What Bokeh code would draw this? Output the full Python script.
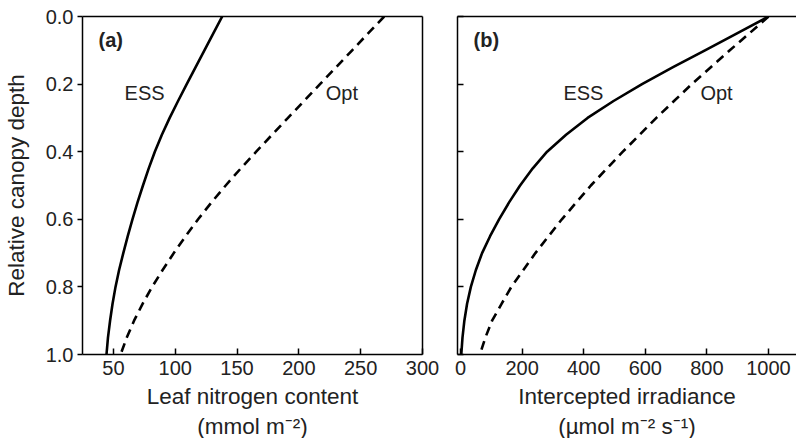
from bokeh.plotting import figure
from bokeh.layouts import row
from bokeh.models import Range1d, LinearAxis, FixedTicker, PrintfTickFormatter, ColumnDataSource
from bokeh.core.properties import value
from bokeh.embed import file_html
from bokeh.resources import INLINE

# Relative canopy depth (0 = top of canopy, 1 = bottom)
depth = [0.00, 0.05, 0.10, 0.15, 0.20, 0.25, 0.30, 0.35, 0.40, 0.45, 0.50,
         0.55, 0.60, 0.65, 0.70, 0.75, 0.80, 0.85, 0.90, 0.95, 1.00]

# (a) Leaf nitrogen content, mmol m-2
nitrogen_ess = [138.0, 130.8, 123.6, 116.5, 109.3, 102.3, 95.5, 89.2, 83.5, 78.5, 73.9,
                69.5, 65.4, 61.6, 58.0, 54.6, 51.7, 49.3, 47.3, 45.6, 44.4]
nitrogen_opt = [269.0, 256.0, 243.1, 230.1, 217.1, 204.2, 191.2, 178.3, 165.5, 152.9, 140.8,
                129.3, 118.5, 108.4, 98.8, 89.8, 81.3, 73.6, 66.7, 60.8, 55.8]

# (b) Intercepted irradiance, umol m-2 s-1
irradiance_ess = [1000.0, 897.8, 793.9, 690.0, 589.3, 496.8, 412.4, 342.6, 280.9, 233.8, 193.2,
                  157.5, 125.0, 95.8, 69.8, 49.7, 33.4, 21.1, 12.3, 6.2, 2.3]
irradiance_opt = [1000.0, 937.7, 874.4, 812.7, 751.0, 693.2, 635.8, 581.2, 527.0, 475.0, 423.1,
                  376.0, 328.9, 285.7, 242.9, 203.9, 164.9, 133.1, 102.3, 80.5, 62.7]

depth_ticks = [0.0, 0.2, 0.4, 0.6, 0.8, 1.0]
nitrogen_ticks = [50, 100, 150, 200, 250, 300]
irradiance_ticks = [0, 200, 400, 600, 800, 1000]

FONT = "Liberation Sans"
INK = "#222222"
FS = "20px"
LABEL_FS = "22.5px"


def style_axis(ax):
    ax.axis_line_width = 1.5
    ax.axis_line_color = "black"
    ax.major_tick_line_width = 1.5
    ax.major_tick_line_color = "black"
    ax.minor_tick_line_color = None
    ax.major_label_text_font = FONT
    ax.major_label_text_font_size = FS
    ax.major_label_text_color = INK
    ax.axis_label_text_font = FONT
    ax.axis_label_text_font_size = LABEL_FS
    ax.axis_label_text_color = INK
    ax.axis_label_text_font_style = "normal"


def bare_axis(ax):
    ax.axis_line_width = 1.5
    ax.axis_line_color = "black"
    ax.major_tick_line_color = None
    ax.minor_tick_line_color = None
    ax.major_label_text_font_size = "0px"
    ax.major_label_text_color = None


def make_panel(xr, xticks, xlabel, ess, opt, tag, tag_x, ess_x, opt_x,
               left_border, right_border, frame_w, left_labels):
    p = figure(frame_width=frame_w, frame_height=338,
               x_range=xr, y_range=Range1d(1.0, 0.0),
               output_backend="svg", toolbar_location=None,
               x_axis_location=None, y_axis_location=None,
               min_border_left=left_border, min_border_right=right_border,
               min_border_top=16, min_border_bottom=84)
    p.grid.visible = False
    p.outline_line_color = None
    p.background_fill_color = "white"
    p.border_fill_color = "white"

    xa = LinearAxis(ticker=FixedTicker(ticks=xticks), axis_label=xlabel)
    style_axis(xa)
    xa.major_tick_in = 6
    xa.major_tick_out = 0
    xa.major_label_standoff = 6
    xa.axis_label_standoff = 6
    p.add_layout(xa, "below")

    ya = LinearAxis(ticker=FixedTicker(ticks=depth_ticks),
                    formatter=PrintfTickFormatter(format="%.1f"))
    style_axis(ya)
    if left_labels:
        ya.axis_label = "Relative canopy depth"
        ya.major_tick_in = 0
        ya.major_tick_out = 5
        ya.major_label_standoff = 4
        ya.axis_label_standoff = 14
    else:
        ya.major_tick_in = 6
        ya.major_tick_out = 0
        ya.major_label_text_font_size = "0px"
        ya.major_label_text_color = None
        ya.major_label_standoff = 0
    p.add_layout(ya, "left")

    top = LinearAxis(ticker=FixedTicker(ticks=[]))
    bare_axis(top)
    p.add_layout(top, "above")

    src = ColumnDataSource(dict(depth=depth, ess=ess, opt=opt))
    p.line("opt", "depth", source=src, line_color="black", line_width=2.6,
           line_dash="9 6", line_join="round")
    p.line("ess", "depth", source=src, line_color="black", line_width=2.6,
           line_join="round")

    p.text(x=[tag_x], y=[0.071], text=[tag], text_font=value(FONT),
           text_font_size=value(FS), text_font_style="bold",
           text_color=INK, text_baseline="middle", text_align="left")
    p.text(x=[ess_x, opt_x], y=[0.225, 0.225], text=["ESS", "Opt"],
           text_font=value(FONT), text_font_size=value(FS),
           text_color=INK, text_baseline="middle", text_align="left")
    return p


left = make_panel(Range1d(25, 300), nitrogen_ticks,
                  "Leaf nitrogen content\n(mmol m\u207b\u00b2)",
                  nitrogen_ess, nitrogen_opt, "(a)", 38, 59, 221.8,
                  82, 18, 340, True)
right_edge = LinearAxis(ticker=FixedTicker(ticks=[]))
bare_axis(right_edge)
left.add_layout(right_edge, "right")

right = make_panel(Range1d(-10, 1091), irradiance_ticks,
                   "Intercepted irradiance\n(\u00b5mol m\u207b\u00b2 s\u207b\u00b9)",
                   irradiance_ess, irradiance_opt, "(b)", 42, 334, 779,
                   17, 0, 339, False)

layout = row(left, right)
open("out.html", "w").write(file_html(layout, INLINE))
